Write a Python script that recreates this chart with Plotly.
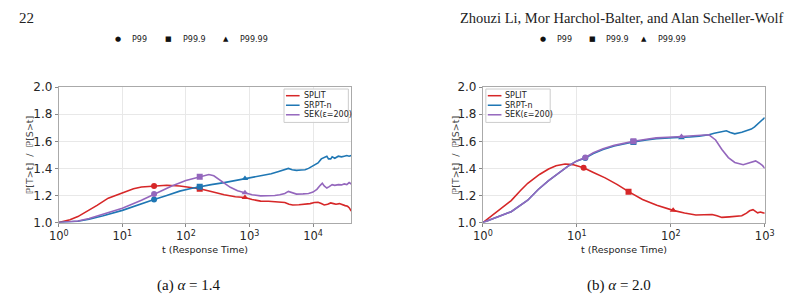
import plotly.graph_objects as go

W, H = 803, 303

# ---------------- data: alpha = 1.4 ----------------
t_a_split = [1, 1.5, 2, 3, 4, 6, 10, 15, 20, 31.6, 50, 80, 120, 165, 250, 400, 600, 850, 1100, 1500,
             2000, 2500, 3000, 3600, 4200, 4800, 6000, 7500, 9000, 10500, 12000, 13500, 15000, 17000,
             19000, 21000, 23000, 26000, 29000, 32000, 35000, 37000, 40000]
v_a_split = [1.0, 1.02, 1.044, 1.09, 1.127, 1.18, 1.222, 1.25, 1.262, 1.27, 1.275, 1.27, 1.26, 1.25,
             1.23, 1.205, 1.19, 1.185, 1.17, 1.158, 1.157, 1.155, 1.152, 1.148, 1.135, 1.13, 1.132,
             1.135, 1.14, 1.148, 1.15, 1.14, 1.13, 1.135, 1.145, 1.14, 1.135, 1.14, 1.13, 1.125, 1.12,
             1.11, 1.085]
t_a_srpt = [1, 2, 3, 5, 10, 20, 31.6, 50, 80, 120, 165, 250, 400, 600, 850, 1200, 1600, 2200, 2800,
            3600, 4100, 4700, 5500, 6500, 7500, 8500, 9300, 10500, 12000, 13500, 15000, 16500, 17500,
            19000, 20000, 22000, 25000, 28000, 31000, 34000, 37000, 40000]
v_a_srpt = [1.0, 1.01, 1.025, 1.05, 1.09, 1.14, 1.17, 1.2, 1.232, 1.252, 1.265, 1.28, 1.295, 1.31,
            1.325, 1.335, 1.345, 1.36, 1.375, 1.39, 1.40, 1.39, 1.385, 1.388, 1.39, 1.40, 1.41, 1.42,
            1.44, 1.47, 1.48, 1.49, 1.47, 1.47, 1.485, 1.475, 1.49, 1.485, 1.49, 1.495, 1.49, 1.495]
t_a_sek = [1, 2, 3, 5, 10, 20, 31.6, 60, 100, 165, 230, 275, 330, 390, 500, 650, 850, 1100, 1500,
           2000, 2500, 3000, 3600, 4100, 4600, 5500, 7000, 8500, 10000, 11500, 13000, 14000, 15000,
           16500, 18000, 20000, 22000, 25000, 28000, 31000, 34000, 37000, 40000]
v_a_sek = [1.0, 1.012, 1.03, 1.06, 1.105, 1.165, 1.21, 1.27, 1.31, 1.338, 1.355, 1.345, 1.32, 1.296,
           1.26, 1.235, 1.22, 1.205, 1.197, 1.198, 1.20, 1.205, 1.215, 1.23, 1.22, 1.21, 1.212, 1.215,
           1.225, 1.245, 1.275, 1.29, 1.27, 1.255, 1.265, 1.28, 1.275, 1.28, 1.278, 1.285, 1.28,
           1.295, 1.285]
# percentile markers (P99, P99.9, P99.99)
m_a_t = [31.6, 165, 850]
m_a_split = [1.27, 1.25, 1.185]
m_a_srpt = [1.17, 1.265, 1.325]
m_a_sek = [1.21, 1.338, 1.22]

# ---------------- data: alpha = 2.0 ----------------
t_b_split = [1, 2, 2.5, 3, 4, 5, 6, 7.5, 9, 10, 11.8, 15, 20, 27, 35.5, 50, 71, 106, 140, 185, 230,
             275, 310, 350, 420, 480, 570, 640, 690, 750, 800, 840, 900, 950, 1000]
v_b_split = [1.0, 1.162, 1.235, 1.29, 1.355, 1.395, 1.42, 1.432, 1.428, 1.42, 1.405, 1.37, 1.33, 1.28,
             1.228, 1.17, 1.127, 1.09, 1.07, 1.056, 1.058, 1.06, 1.05, 1.038, 1.042, 1.045, 1.05,
             1.07, 1.087, 1.095, 1.08, 1.072, 1.078, 1.07, 1.068]
t_b_srpt = [1, 2, 3, 3.88, 5, 6.2, 8, 10, 12.3, 15, 19, 25, 35.5, 40, 55, 70, 106, 130, 160, 200, 255,
            290, 320, 390, 430, 480, 570, 660, 720, 780, 850, 910, 1000]
v_b_srpt = [1.0, 1.08, 1.165, 1.244, 1.31, 1.36, 1.415, 1.455, 1.477, 1.51, 1.54, 1.565, 1.59, 1.595,
            1.61, 1.62, 1.627, 1.627, 1.632, 1.638, 1.648, 1.66, 1.667, 1.678, 1.665, 1.655, 1.667,
            1.678, 1.69, 1.706, 1.73, 1.75, 1.775]
t_b_sek = [1, 2, 3, 3.88, 5, 6.2, 8, 10, 12.3, 15, 19, 25, 35.5, 40, 55, 70, 106, 130, 160, 200, 255,
           300, 350, 410, 480, 590, 710, 800, 870, 950, 1000]
v_b_sek = [1.0, 1.08, 1.165, 1.244, 1.31, 1.36, 1.415, 1.455, 1.48, 1.515, 1.545, 1.57, 1.595, 1.60,
           1.615, 1.625, 1.632, 1.635, 1.638, 1.64, 1.648, 1.61, 1.54, 1.48, 1.444, 1.427, 1.444,
           1.455, 1.44, 1.42, 1.40]
m_b_split_t = [11.8, 35.5, 106]
m_b_split = [1.405, 1.228, 1.09]
m_b_t = [12.3, 40, 130]
m_b_srpt = [1.477, 1.595, 1.627]
m_b_sek = [1.48, 1.60, 1.635]

series_names = ["SPLIT", "SRPT-n", "SEK(ε=200)"]
colors = ["#d62728", "#1f77b4", "#9467bd"]
marker_symbols = ["circle", "square", "triangle-up"]
marker_labels = ["P99", "P99.9", "P99.99"]
yticks = [1.0, 1.2, 1.4, 1.6, 1.8, 2.0]
xticks_a = [1, 10, 100, 1000, 10000]
xticks_b = [1, 10, 100, 1000]


def px(x):
    return x / W


def py(y):
    return (H - y) / H


fig = go.Figure()

panels = [
    dict(x="x", y="y", series=[(t_a_split, v_a_split, m_a_t, m_a_split),
                               (t_a_srpt, v_a_srpt, m_a_t, m_a_srpt),
                               (t_a_sek, v_a_sek, m_a_t, m_a_sek)]),
    dict(x="x2", y="y2", series=[(t_b_split, v_b_split, m_b_split_t, m_b_split),
                                 (t_b_srpt, v_b_srpt, m_b_t, m_b_srpt),
                                 (t_b_sek, v_b_sek, m_b_t, m_b_sek)]),
]
for p in panels:
    for i, (tt, vv, mt, mv) in enumerate(p["series"]):
        fig.add_trace(go.Scatter(x=tt, y=vv, mode="lines", xaxis=p["x"], yaxis=p["y"],
                                 line=dict(color=colors[i], width=1.6), showlegend=False,
                                 name=series_names[i]))
        fig.add_trace(go.Scatter(x=mt, y=mv, mode="markers", xaxis=p["x"], yaxis=p["y"],
                                 marker=dict(color=colors[i], symbol=marker_symbols, size=6),
                                 showlegend=False))

ytickfont = dict(family="DejaVu Sans", size=12, color="#262626")
xtickfont = dict(family="DejaVu Sans", size=11.5, color="#262626")
common_x = dict(type="log", showline=True, linecolor="#aaaaaa", mirror=True, linewidth=1,
                showgrid=True, gridcolor="#e8e8e8", gridwidth=1, ticks="outside", ticklen=3,
                tickcolor="#888888", tickfont=xtickfont, zeroline=False)
common_y = dict(range=[1.0, 2.0], tickvals=yticks, ticktext=[f"{v:.1f}" for v in yticks],
                showline=True, linecolor="#aaaaaa", mirror=True, linewidth=1, showgrid=True,
                gridcolor="#e8e8e8", ticks="outside", ticklen=3, tickcolor="#888888",
                tickfont=ytickfont, zeroline=False)

dom_y = [py(226), py(84)]
fig.update_layout(
    width=W, height=H, margin=dict(l=0, r=0, t=0, b=0),
    paper_bgcolor="white", plot_bgcolor="white", showlegend=False,
    xaxis=dict(common_x, domain=[px(50), px(350)], range=[0, 4.602], anchor="y",
               tickvals=xticks_a, ticktext=[f"10<sup>{k}</sup>" for k in range(len(xticks_a))]),
    yaxis=dict(common_y, domain=dom_y, anchor="x"),
    xaxis2=dict(common_x, domain=[px(485), px(774)], range=[0, 3], anchor="y2",
                tickvals=xticks_b, ticktext=[f"10<sup>{k}</sup>" for k in range(len(xticks_b))]),
    yaxis2=dict(common_y, domain=dom_y, anchor="x2"),
)

ann = []
shapes = []
serif = "Liberation Serif"
# page header
ann.append(dict(text="22", x=px(7), y=py(12), xanchor="left", yanchor="middle",
                font=dict(family=serif, size=15, color="#222")))
ann.append(dict(text="Zhouzi Li, Mor Harchol-Balter, and Alan Scheller-Wolf", x=px(795), y=py(12),
                xanchor="right", yanchor="middle", font=dict(family=serif, size=14.5, color="#222")))

# percentile marker keys
for x0, xs in [(0, [111, 163, 222]), (1, [547, 597, 650])]:
    for k, sym in enumerate(["●", "■", "▲"]):
        ann.append(dict(text=sym, x=px(xs[k]), y=py(34), xanchor="center", yanchor="middle",
                        font=dict(family="DejaVu Sans", size=7, color="#111")))
        ann.append(dict(text=marker_labels[k], x=px(xs[k] + 12), y=py(34), xanchor="left",
                        yanchor="middle", font=dict(family="DejaVu Sans", size=8, color="#222")))

# axis titles and captions
for cx, ylab_x, cap in [(200, 20, "(a) <i>α</i> = 1.4"), (630, 457, "(b) <i>α</i> = 2.0")]:
    ann.append(dict(text="t (Response Time)", x=px(cx), y=py(254), xanchor="center",
                    yanchor="middle", font=dict(family="DejaVu Sans", size=9.5, color="#222")))
    ann.append(dict(text="ℙ[T>t]  /  ℙ[S>t]", x=px(ylab_x), y=py(155), textangle=-90,
                    xanchor="center", yanchor="middle",
                    font=dict(family="DejaVu Sans", size=9.5, color="#444")))
    ann.append(dict(text=cap, x=px(cx - 17 if cx == 200 else cx - 5), y=py(292), xanchor="center",
                    yanchor="middle", font=dict(family=serif, size=15, color="#111")))

# in-plot legends
for bx in [281, 488]:
    shapes.append(dict(type="rect", xref="paper", yref="paper", x0=px(bx), x1=px(bx + 66),
                       y0=py(121), y1=py(86), line=dict(color="#cccccc", width=1),
                       fillcolor="rgba(255,255,255,0.85)"))
    for k, yy in enumerate([93, 103, 113]):
        shapes.append(dict(type="line", xref="paper", yref="paper", x0=px(bx + 2), x1=px(bx + 16),
                           y0=py(yy), y1=py(yy), line=dict(color=colors[k], width=1.5)))
        ann.append(dict(text=series_names[k], x=px(bx + 18), y=py(yy), xanchor="left",
                        yanchor="middle", font=dict(family="DejaVu Sans", size=8, color="#222")))

for a in ann:
    a.update(xref="paper", yref="paper", showarrow=False)
fig.update_layout(annotations=ann, shapes=shapes)

fig.write_html("out.html")
